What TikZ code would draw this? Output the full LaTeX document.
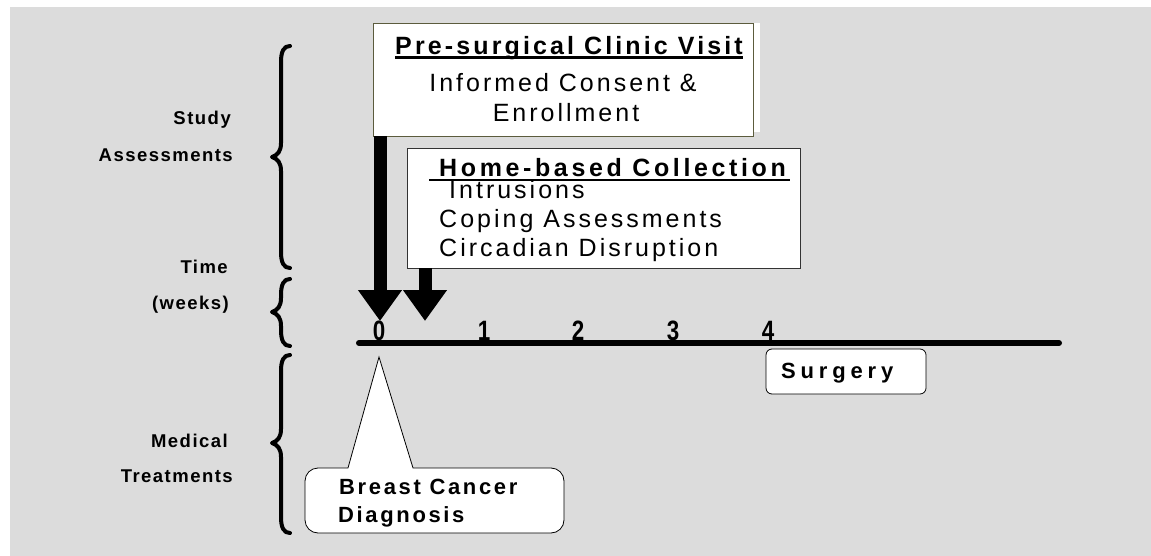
\documentclass[tikz,border=0pt]{standalone}
\usepackage{fontspec}
\setmainfont{Liberation Sans}
\newfontfamily\spf[LetterSpace=12]{Liberation Sans}
\newfontfamily\spt[LetterSpace=12.5]{Liberation Sans}
\newfontfamily\sph[LetterSpace=14.5]{Liberation Sans}
\newfontfamily\spl[LetterSpace=8]{Liberation Sans}
\newfontfamily\spc[LetterSpace=12]{Liberation Sans}
\newfontfamily\sps[LetterSpace=22]{Liberation Sans}
\usetikzlibrary{arrows.meta,calc}
\definecolor{bggray}{RGB}{220,220,220}
\definecolor{boxolive}{RGB}{92,92,61}
\newcommand\mybrace[3]{% top, tip, bottom (y values)
  \draw[line width=4pt,line cap=round,line join=round]
    (290,#1) .. controls (284,#1) and (281,{#1+5}) .. (281,{#1+16})
    -- (281,{#2-14}) .. controls (281,{#2-6}) and (278,{#2-2}) .. (272,#2)
    .. controls (278,{#2+2}) and (281,{#2+6}) .. (281,{#2+14})
    -- (281,{#3-16}) .. controls (281,{#3-5}) and (284,#3) .. (290,#3);}
\begin{document}
\begin{tikzpicture}[x=1pt,y=-1pt,
  sidelbl/.style={anchor=base east,inner sep=0pt,font=\spl\bfseries\fontsize{18.5}{21}\selectfont},
  boxtxt/.style={inner sep=0pt,font=\spf\fontsize{25}{29}\selectfont},
  boxttl/.style={inner sep=0pt,font=\spt\bfseries\fontsize{25}{29}\selectfont},
  calltxt/.style={anchor=base west,inner sep=0pt,font=\spc\bfseries\fontsize{22}{26}\selectfont},
  digit/.style={anchor=base,inner sep=0pt,font=\bfseries\fontsize{28}{32}\selectfont},
  bigarrow/.style={line width=13pt,-{Triangle[width=42pt,length=31pt]}},
  ulin/.style={line width=2.5pt}]
\useasboundingbox (0,0) rectangle (1151,556);
\fill[bggray] (10,7) rectangle (1151,556);

% braces
\mybrace{46}{157}{268}
\mybrace{279}{312}{346}
\mybrace{355}{443}{533}

% side labels
\node[sidelbl] (s1) at (231,125) {Study};
\node[sidelbl] (s2) at (233,162) {Assessments};
\node[sidelbl] (s3) at (228,273) {Time};
\node[sidelbl] (s4) at (229,309) {(weeks)};
\node[sidelbl] (s5) at (228,447) {Medical};
\node[sidelbl] (s6) at (233,482) {Treatments};

% box 1
\fill[white] (373,23) rectangle (760,132);
\node[draw=boxolive,fill=white,line width=0.8pt,minimum width=380pt,minimum height=113pt,inner sep=0pt] (box1) at (563,79.5) {};
\node[boxttl,anchor=base] (t1) at (569,55) {Pre-surgical Clinic Visit};
\draw[ulin] ($(t1.base west)+(0,2.5)$) -- ($(t1.base east)+(0,2.5)$);
\node[boxtxt,anchor=base] (t1a) at (563,92) {Informed Consent \&};
\node[boxtxt,anchor=base] (t1b) at (566,122) {Enrollment};

% box 2
\node[draw=black!80,fill=white,line width=0.8pt,minimum width=393pt,minimum height=120pt,inner sep=0pt] (box2) at (603.5,208) {};
\node[inner sep=0pt,font=\sph\bfseries\fontsize{25}{29}\selectfont,anchor=base west] (t2) at (439,177) {Home-based Collection};
\draw[ulin] (429,180) -- (790,180);
\node[boxtxt,anchor=base west] (t2a) at (449,199) {Intrusions};
\node[boxtxt,anchor=base west] (t2b) at (439,228) {Coping Assessments};
\node[boxtxt,anchor=base west] (t2c) at (439,256) {Circadian Disruption};

% arrows
\coordinate (tip0) at (380,321);
\coordinate (tip1) at (425,321);
\draw[bigarrow] (box1.south -| tip0) -- (tip0);
\draw[bigarrow] (box2.south -| tip1) -- (tip1);

% timeline
\coordinate (axL) at (359,343);
\coordinate (axR) at (1059,343);
\draw[line width=6pt,line cap=round] (axL) -- (axR);
\node[digit] (d0) at (379,340) {\scalebox{0.8}[1]{0}};
\node[digit] (d1) at (484,340) {\scalebox{0.8}[1]{1}};
\node[digit] (d2) at (578,340) {\scalebox{0.8}[1]{2}};
\node[digit] (d3) at (673,340) {\scalebox{0.8}[1]{3}};
\node[digit] (d4) at (768,340) {\scalebox{0.8}[1]{4}};

% surgery
\node[draw=black,fill=white,rounded corners=6pt,line width=0.8pt,minimum width=160pt,minimum height=45pt,inner sep=0pt] (surg) at (846,371.5) {};
\node[anchor=base west,inner sep=0pt,font=\sps\bfseries\fontsize{22}{26}\selectfont] (surgt) at (781,378) {Surgery};

% callout
\draw[fill=white,line width=0.8pt] (348,468) -- (379,357) -- (413,468)
  [rounded corners=13pt] -- (564,468) -- (564,533) -- (305,533) -- (305,468) [sharp corners] -- cycle;
\node[calltxt] (c1) at (339,494) {Breast Cancer};
\node[calltxt] (c2) at (338,522) {Diagnosis};
\end{tikzpicture}
\end{document}
